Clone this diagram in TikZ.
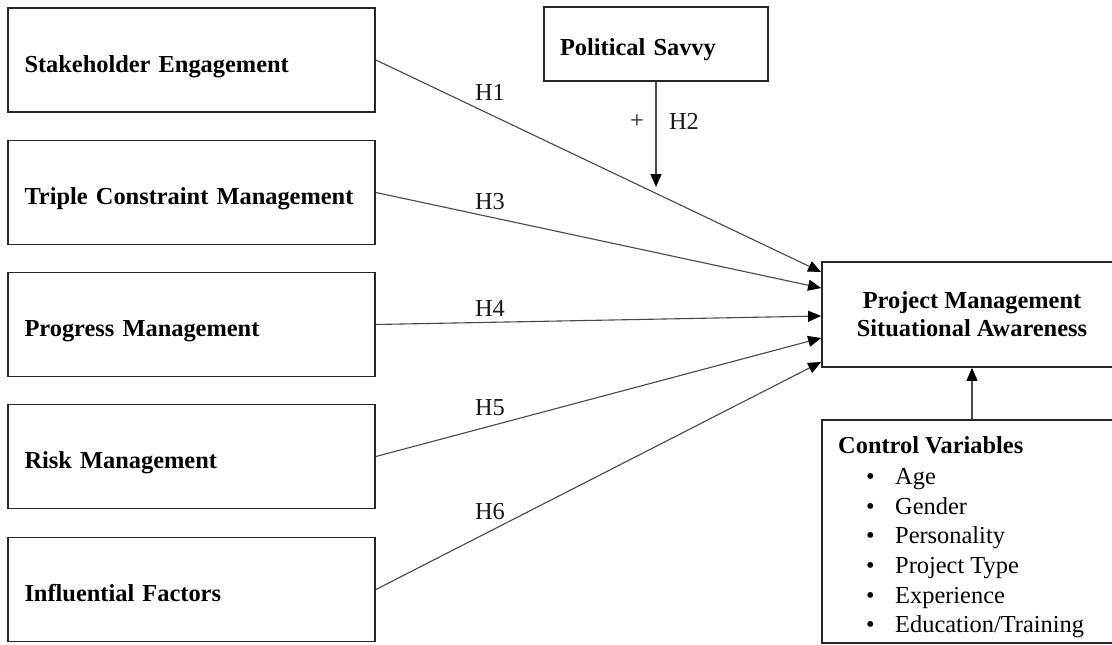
\documentclass[tikz,border=0pt]{standalone}
\usepackage{fontspec}
\setmainfont{Liberation Serif}
\usetikzlibrary{arrows.meta}
\tikzset{
  box/.style={draw=black!85, line width=1.8pt, rectangle, inner sep=0pt},
  leftbox/.style={box, minimum width=367pt, minimum height=104pt, text width=334pt, text height=29pt, text depth=5pt, align=left, font=\fontsize{24.4}{29}\selectfont\bfseries},
  conn/.style={draw=black!72, line width=1.1pt, -{Triangle[length=13pt,width=11pt,color=black]}},
  lab/.style={inner sep=0pt, font=\fontsize{24.4}{29}\selectfont, text=black!90}
}
\begin{document}
\begin{tikzpicture}[x=1pt,y=-1pt]
\useasboundingbox (0,0) rectangle (1112,645);
\clip (0,0) rectangle (1112,645);
\fill[white] (0,0) rectangle (1112,645);
% left boxes
\node[leftbox] (se) at (191.5,60) {Stakeholder Engagement};
\node[leftbox] (tc) at (191.5,192.5) {Triple Constraint Management};
\node[leftbox] (pm) at (191.5,324.5) {Progress Management};
\node[leftbox] (rm) at (191.5,456.5) {Risk Management};
\node[leftbox] (if) at (191.5,589.5) {Influential Factors};
% political savvy
\node[box, minimum width=224pt, minimum height=74pt, text width=192pt, text height=29pt, text depth=5pt, align=left, font=\fontsize{24.4}{29}\selectfont\bfseries] (ps) at (656,44) {Political Savvy};
% outcome
\node[box, minimum width=300pt, minimum height=105pt, align=center, font=\fontsize{24.4}{28}\selectfont\bfseries] (pmsa) at (972,314.5) {Project Management\\Situational Awareness};
% control variables
\node[box, minimum width=300pt, minimum height=223pt] (ctrl) at (972,531.5) {};
\node[anchor=north west, inner sep=0pt, align=left, font=\fontsize{24.4}{29.6}\selectfont] (ctrltxt) at (838,436) {%
\textbf{Control Variables}\\[2pt]
\hspace*{28pt}\makebox[29pt][l]{\textbullet}Age\\
\hspace*{28pt}\makebox[29pt][l]{\textbullet}Gender\\
\hspace*{28pt}\makebox[29pt][l]{\textbullet}Personality\\
\hspace*{28pt}\makebox[29pt][l]{\textbullet}Project Type\\
\hspace*{28pt}\makebox[29pt][l]{\textbullet}Experience\\
\hspace*{28pt}\makebox[29pt][l]{\textbullet}Education/Training};
% arrow targets
\coordinate (t1) at (pmsa.west |- 0,272);
\coordinate (t2) at (pmsa.west |- 0,288);
\coordinate (t3) at (pmsa.west |- 0,316);
\coordinate (t4) at (pmsa.west |- 0,338);
\coordinate (t5) at (pmsa.west |- 0,362);
\coordinate (h2tip) at (ps.south |- 0,187);
% connectors
\draw[conn] (se.east) -- (t1);
\draw[conn] (tc.east) -- (t2);
\draw[conn] (pm.east) -- (t3);
\draw[conn] (rm.east) -- (t4);
\draw[conn] (if.east) -- (t5);
\draw[conn] (ps.south) -- (h2tip);
\draw[conn] (ctrl.north) -- (pmsa.south);
% labels
\node[lab] (l1) at (490,92) {H1};
\node[lab] (l2) at (684,121) {H2};
\node[lab] (lp) at (637,122) {+};
\node[lab] (l3) at (490,202) {H3};
\node[lab] (l4) at (490,308) {H4};
\node[lab] (l5) at (490,408) {H5};
\node[lab] (l6) at (490,512) {H6};
\end{tikzpicture}
\end{document}
